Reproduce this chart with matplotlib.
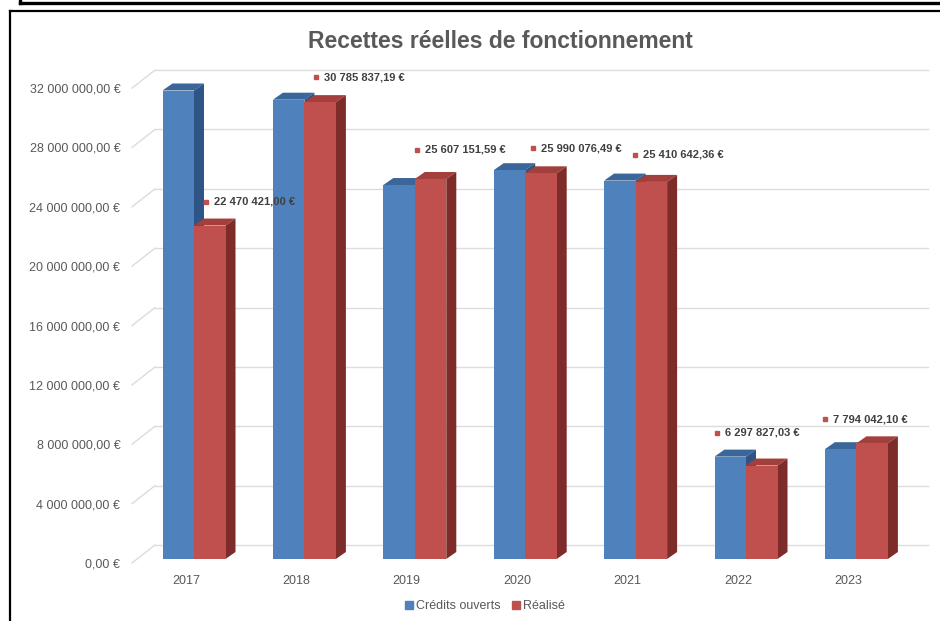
import matplotlib
matplotlib.use("Agg")
import matplotlib.pyplot as plt
from matplotlib.patches import Polygon
from matplotlib.lines import Line2D

plt.rcParams['font.family'] = ['Liberation Sans', 'DejaVu Sans']

# data
annees = ['2017', '2018', '2019', '2020', '2021', '2022', '2023']
credits_ouverts = [31.57e6, 30.95e6, 25.2e6, 26.2e6, 25.5e6, 6.9e6, 7.4e6]
realise = [22470421.00, 30785837.19, 25607151.59, 25990076.49, 25410642.36, 6297827.03, 7794042.10]
labels_realise = ['22 470 421,00 €', '30 785 837,19 €', '25 607 151,59 €', '25 990 076,49 €',
                  '25 410 642,36 €', '6 297 827,03 €', '7 794 042,10 €']
yticks = [0, 4e6, 8e6, 12e6, 16e6, 20e6, 24e6, 28e6, 32e6]

# layout (pixels of a 940x621 picture)
W, H = 940, 621
px_cat = 110.4          # pixels per category
cat0_px = 186           # x pixel of first category
px_per_m = 14.84        # pixels per million
zero_px = 563           # y pixel of 0 on the label plane
ax_left_px, ax_right_px = 130, 935
wall_end_px = 928
ymin, ymax = -0.5e6, 34e6

sx = 1 / px_cat
sy = 1e6 / px_per_m

fig = plt.figure(figsize=(W / 100, H / 100), dpi=100)
bot_px = zero_px - ymin / 1e6 * px_per_m
top_px = zero_px - ymax / 1e6 * px_per_m
ax = fig.add_axes([ax_left_px / W, 1 - bot_px / H, (ax_right_px - ax_left_px) / W, (bot_px - top_px) / H])
xl = (ax_left_px - cat0_px) / px_cat
xr = (ax_right_px - cat0_px) / px_cat
xw = (wall_end_px - cat0_px) / px_cat
ax.set_xlim(xl, xr)
ax.set_ylim(ymin, ymax)
for s in ax.spines.values():
    s.set_visible(False)

# back wall gridlines + perspective stubs
grid_c = '#DCDCDC'
wall_dx, wall_dy = 25 * sx, 18 * sy
for v in yticks:
    ax.plot([xl + wall_dx, xw], [v + wall_dy, v + wall_dy], color=grid_c, lw=1, zorder=1)
    ax.plot([xl + 2 * sx, xl + wall_dx], [v, v + wall_dy], color=grid_c, lw=1, zorder=1)

# 3D-looking bars
bar_w = 31.5 * sx
front_dx, front_dy = 8 * sx, 4 * sy
dep_x, dep_y = 10 * sx, 7 * sy
blue = ('#4F81BD', '#3A6699', '#2F5586')
red = ('#C0504D', '#A33F3C', '#7E2C2A')


def bar3d(x0, h, cols, z):
    y0 = front_dy
    y1 = front_dy + h
    x1 = x0 + bar_w
    top = Polygon([(x0, y1), (x1, y1), (x1 + dep_x, y1 + dep_y), (x0 + dep_x, y1 + dep_y)],
                  closed=True, fc=cols[1], ec='none', zorder=z)
    side = Polygon([(x1, y0), (x1 + dep_x, y0 + dep_y), (x1 + dep_x, y1 + dep_y), (x1, y1)],
                   closed=True, fc=cols[2], ec='none', zorder=z)
    front = Polygon([(x0, y0), (x1, y0), (x1, y1), (x0, y1)], closed=True, fc=cols[0], ec='none', zorder=z)
    for p in (top, side, front):
        ax.add_patch(p)


for i in range(len(annees)):
    bar3d(i + front_dx - bar_w, credits_ouverts[i], blue, 3 + i * 0.1)
    bar3d(i + front_dx, realise[i], red, 3.05 + i * 0.1)

# data labels
lab_dx = [20, 20, 10, 16, 7, -21, -23]
lab_dy = [24, 25, 29, 25, 27, 33, 24]
for i, v in enumerate(realise):
    mx = i + lab_dx[i] * sx
    my = v + front_dy + lab_dy[i] * sy
    ax.plot(mx, my, 's', ms=3.5, color='#C0504D', zorder=6)
    ax.text(mx + 8 * sx, my, labels_realise[i], fontsize=8, fontweight='bold', color='#404040',
            va='center', ha='left', zorder=6)

# axes ticks
ax.set_yticks(yticks)
ax.set_yticklabels(['{:,.2f} €'.format(v).replace(',', ' ').replace('.', ',') for v in yticks])
ax.set_xticks(range(len(annees)))
ax.set_xticklabels(annees)
ax.tick_params(axis='y', length=0, pad=7, labelsize=9, labelcolor='#595959')
ax.tick_params(axis='x', length=0, pad=3, labelsize=9, labelcolor='#595959')

# title + legend
fig.text(500 / W, 1 - 42 / H, 'Recettes réelles de fonctionnement', ha='center', va='center',
         fontsize=16.5, fontweight='bold', color='#595959')
handles = [Line2D([], [], ls='none', marker='s', ms=6, color='#4F81BD'),
           Line2D([], [], ls='none', marker='s', ms=6, color='#C0504D')]
fig.legend(handles, ['Crédits ouverts', 'Réalisé'], loc='center', bbox_to_anchor=(485 / W, 1 - 606 / H),
           ncol=2, frameon=False, fontsize=9, handlelength=0.6, handletextpad=0.2, columnspacing=1.0,
           labelcolor='#595959')

# frames around the picture
fig.add_artist(Line2D([20 / W, 1], [1 - 2.5 / H, 1 - 2.5 / H], color='black', lw=2.4, transform=fig.transFigure))
fig.add_artist(Line2D([20 / W, 20 / W], [1, 1 - 2.5 / H], color='black', lw=2.4, transform=fig.transFigure))
fig.add_artist(Line2D([10 / W, 1], [1 - 11 / H, 1 - 11 / H], color='black', lw=1.6, transform=fig.transFigure))
fig.add_artist(Line2D([10 / W, 10 / W], [1 - 11 / H, 0], color='black', lw=1.6, transform=fig.transFigure))

fig.savefig('out.png', dpi=100)
